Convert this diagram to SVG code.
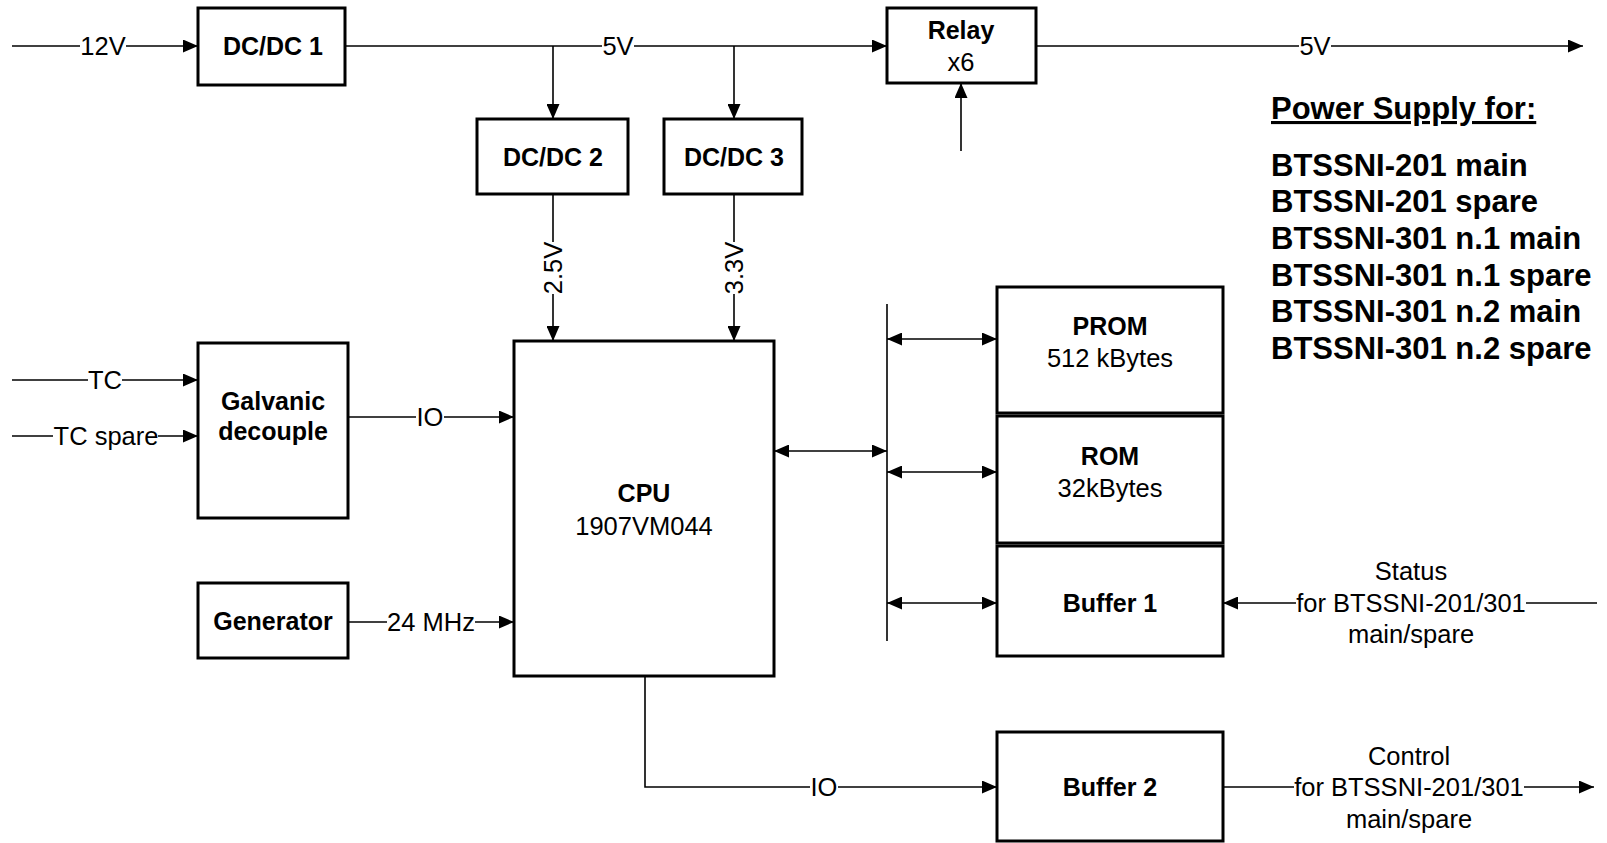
<svg xmlns="http://www.w3.org/2000/svg" width="1607" height="843" viewBox="0 0 1607 843">
<defs>
<style>
.box{fill:#fff;stroke:#000;stroke-width:3}
.ln{fill:none;stroke:#000;stroke-width:1.6}
.arr{marker-end:url(#ah)}
.bi{marker-start:url(#ah);marker-end:url(#ah)}
text{font-family:"Liberation Sans",Arial,sans-serif;fill:#000}
.b{font-weight:bold;font-size:25px;text-anchor:middle}
.r{font-size:25.5px;text-anchor:middle}
.ps{font-weight:bold;font-size:31px}
</style>
<marker id="ah" markerUnits="userSpaceOnUse" viewBox="0 0 15 13" refX="15" refY="6.5" markerWidth="15" markerHeight="13" orient="auto-start-reverse">
<path d="M0,0 L15,6.5 L0,13 z" fill="#000"/>
</marker>
</defs>
<rect width="1607" height="843" fill="#fff"/>

<g id="connectors">
<!-- 12V -->
<line class="ln" x1="12" y1="46" x2="80" y2="46"/>
<line class="ln arr" x1="126" y1="46" x2="198" y2="46"/>
<text class="r" x="103" y="55">12V</text>
<!-- 5V bus -->
<line class="ln" x1="345" y1="46" x2="602" y2="46"/>
<line class="ln arr" x1="634" y1="46" x2="887" y2="46"/>
<text class="r" x="618" y="55">5V</text>
<line class="ln arr" x1="553" y1="46" x2="553" y2="119"/>
<line class="ln arr" x1="734" y1="46" x2="734" y2="119"/>
<!-- relay control input -->
<line class="ln arr" x1="961" y1="151" x2="961" y2="83"/>
<!-- 5V out -->
<line class="ln" x1="1036" y1="46" x2="1299" y2="46"/>
<line class="ln arr" x1="1331" y1="46" x2="1583" y2="46"/>
<text class="r" x="1315" y="55">5V</text>
<!-- 2.5V -->
<line class="ln" x1="553" y1="194" x2="553" y2="242"/>
<line class="ln arr" x1="553" y1="294" x2="553" y2="341"/>
<text class="r" transform="translate(553,268) rotate(-90)" dy="9">2.5V</text>
<!-- 3.3V -->
<line class="ln" x1="734" y1="194" x2="734" y2="242"/>
<line class="ln arr" x1="734" y1="294" x2="734" y2="341"/>
<text class="r" transform="translate(734,268) rotate(-90)" dy="9">3.3V</text>
<!-- TC -->
<line class="ln" x1="12" y1="380" x2="88" y2="380"/>
<line class="ln arr" x1="122" y1="380" x2="198" y2="380"/>
<text class="r" x="105" y="389">TC</text>
<line class="ln" x1="12" y1="436" x2="53" y2="436"/>
<line class="ln arr" x1="158" y1="436" x2="198" y2="436"/>
<text class="r" x="106" y="445">TC spare</text>
<!-- IO from galvanic -->
<line class="ln" x1="348" y1="417" x2="416" y2="417"/>
<line class="ln arr" x1="444" y1="417" x2="514" y2="417"/>
<text class="r" x="430" y="426">IO</text>
<!-- 24 MHz -->
<line class="ln" x1="348" y1="622" x2="387" y2="622"/>
<line class="ln arr" x1="475" y1="622" x2="514" y2="622"/>
<text class="r" x="431" y="631">24 MHz</text>
<!-- data bus -->
<line class="ln" x1="887" y1="304" x2="887" y2="641"/>
<line class="ln bi" x1="774" y1="451" x2="887" y2="451"/>
<line class="ln bi" x1="887" y1="339" x2="997" y2="339"/>
<line class="ln bi" x1="887" y1="472" x2="997" y2="472"/>
<line class="ln bi" x1="887" y1="603" x2="997" y2="603"/>
<!-- Status -->
<line class="ln" x1="1597" y1="603" x2="1526" y2="603"/>
<line class="ln arr" x1="1296" y1="603" x2="1223" y2="603"/>
<text class="r" x="1411" y="580">Status</text>
<text class="r" x="1411" y="612">for BTSSNI-201/301</text>
<text class="r" x="1411" y="643">main/spare</text>
<!-- IO to buffer 2 -->
<polyline class="ln" points="645,676 645,787 810,787"/>
<line class="ln arr" x1="838" y1="787" x2="997" y2="787"/>
<text class="r" x="824" y="796">IO</text>
<!-- Control -->
<line class="ln" x1="1223" y1="787" x2="1294" y2="787"/>
<line class="ln arr" x1="1524" y1="787" x2="1594" y2="787"/>
<text class="r" x="1409" y="765">Control</text>
<text class="r" x="1409" y="796">for BTSSNI-201/301</text>
<text class="r" x="1409" y="828">main/spare</text>
</g>

<g id="dcdc1"><rect class="box" x="198" y="8" width="147" height="77"/><text class="b" x="273" y="55">DC/DC 1</text></g>
<g id="dcdc2"><rect class="box" x="477" y="119" width="151" height="75"/><text class="b" x="553" y="166">DC/DC 2</text></g>
<g id="dcdc3"><rect class="box" x="664" y="119" width="138" height="75"/><text class="b" x="734" y="166">DC/DC 3</text></g>
<g id="relay"><rect class="box" x="887" y="8" width="149" height="75"/><text class="b" x="961" y="39">Relay</text><text class="r" x="961" y="71">x6</text></g>
<g id="galvanic"><rect class="box" x="198" y="343" width="150" height="175"/><text class="b" x="273" y="410">Galvanic</text><text class="b" x="273" y="440">decouple</text></g>
<g id="generator"><rect class="box" x="198" y="583" width="150" height="75"/><text class="b" x="273" y="630">Generator</text></g>
<g id="cpu"><rect class="box" x="514" y="341" width="260" height="335"/><text class="b" x="644" y="502">CPU</text><text class="r" x="644" y="535">1907VM044</text></g>
<g id="prom"><rect class="box" x="997" y="287" width="226" height="126"/><text class="b" x="1110" y="335">PROM</text><text class="r" x="1110" y="367">512 kBytes</text></g>
<g id="rom"><rect class="box" x="997" y="416" width="226" height="127"/><text class="b" x="1110" y="465">ROM</text><text class="r" x="1110" y="497">32kBytes</text></g>
<g id="buffer1"><rect class="box" x="997" y="546" width="226" height="110"/><text class="b" x="1110" y="612">Buffer 1</text></g>
<g id="buffer2"><rect class="box" x="997" y="732" width="226" height="109"/><text class="b" x="1110" y="796">Buffer 2</text></g>

<g id="power-supply-list">
<text class="ps" x="1271" y="119" text-decoration="underline">Power Supply for:</text>
<text class="ps" x="1271" y="176">BTSSNI-201 main</text>
<text class="ps" x="1271" y="212">BTSSNI-201 spare</text>
<text class="ps" x="1271" y="249">BTSSNI-301 n.1 main</text>
<text class="ps" x="1271" y="286">BTSSNI-301 n.1 spare</text>
<text class="ps" x="1271" y="322">BTSSNI-301 n.2 main</text>
<text class="ps" x="1271" y="359">BTSSNI-301 n.2 spare</text>
</g>
</svg>
